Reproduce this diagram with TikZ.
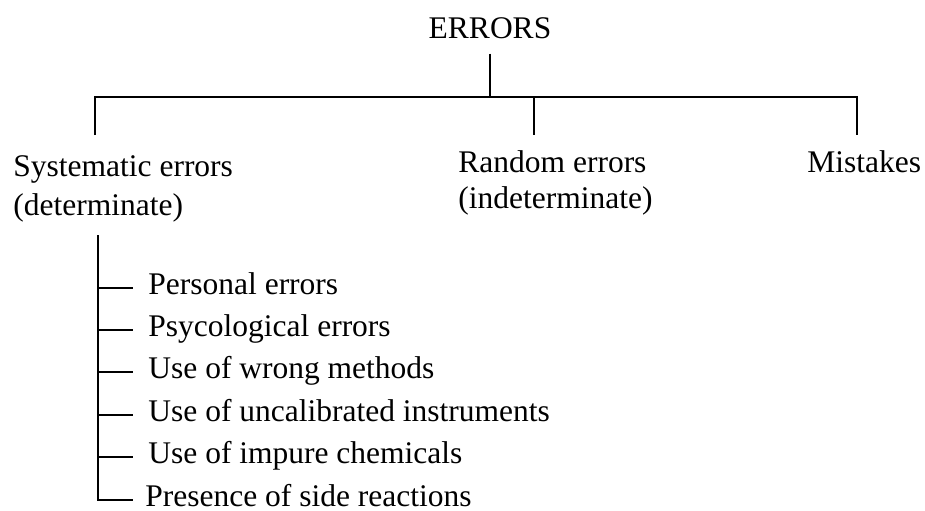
\documentclass[tikz,border=0pt]{standalone}
\usepackage{fontspec}
\setmainfont{Liberation Serif}
\newcommand{\errfont}{\fontsize{15.75}{19}\selectfont}

\begin{document}
\begin{tikzpicture}[x=0.5pt,y=-0.5pt]
\tikzset{lbl/.style={inner sep=0pt,anchor=base west,font=\errfont},
         item/.style={inner ysep=0pt,inner xsep=7.5pt,anchor=west,text height=0.8em,text depth=0.2em,font=\errfont},
         tree/.style={line width=0.9pt}}

\useasboundingbox (0,0) rectangle (925,510);

\node[inner xsep=0pt,inner ysep=7.5pt,anchor=base,font=\errfont] at (490,38) (errors) {ERRORS};

\node[lbl] at (13,176) (sys) {Systematic errors};
\node[lbl] at (13,215) (sysdet) {(determinate)};

\node[lbl] at (458,172) (rand) {Random errors};
\node[lbl] at (458,208) (randdet) {(indeterminate)};

\node[lbl] at (807,172) (mist) {Mistakes};


\coordinate (bus) at (490,97);
\coordinate (d_1) at (95,135);
\coordinate (d_2) at (534,135);
\coordinate (d_3) at (857,135);

\draw[tree] (errors.south) -- (errors.south |- bus);
\draw[tree] (d_1) |- (bus) -| (d_3);
\draw[tree] (bus -| d_2) -- (d_2);


%%%%%%%%%%%%%%%%%%%%%%%%%%%%%%%%%%%%%%
\coordinate (spine) at (98,235);

\node[item] at (133,288) (personal) {Personal errors};
\node[item] at (133,330) (psyco) {Psycological errors};
\node[item] at (133,372) (methods) {Use of wrong methods};
\node[item] at (133,415) (instr) {Use of uncalibrated instruments};
\node[item] at (133,457) (chem) {Use of impure chemicals};
\node[item,inner xsep=6pt] at (133,500) (side) {Presence of side reactions};

\draw[tree] (spine) |- (side.west);
\draw[tree] (spine |- personal.west) -- (personal.west);
\draw[tree] (spine |- psyco.west) -- (psyco.west);
\draw[tree] (spine |- methods.west) -- (methods.west);
\draw[tree] (spine |- instr.west) -- (instr.west);
\draw[tree] (spine |- chem.west) -- (chem.west);


\end{tikzpicture}
\end{document}
